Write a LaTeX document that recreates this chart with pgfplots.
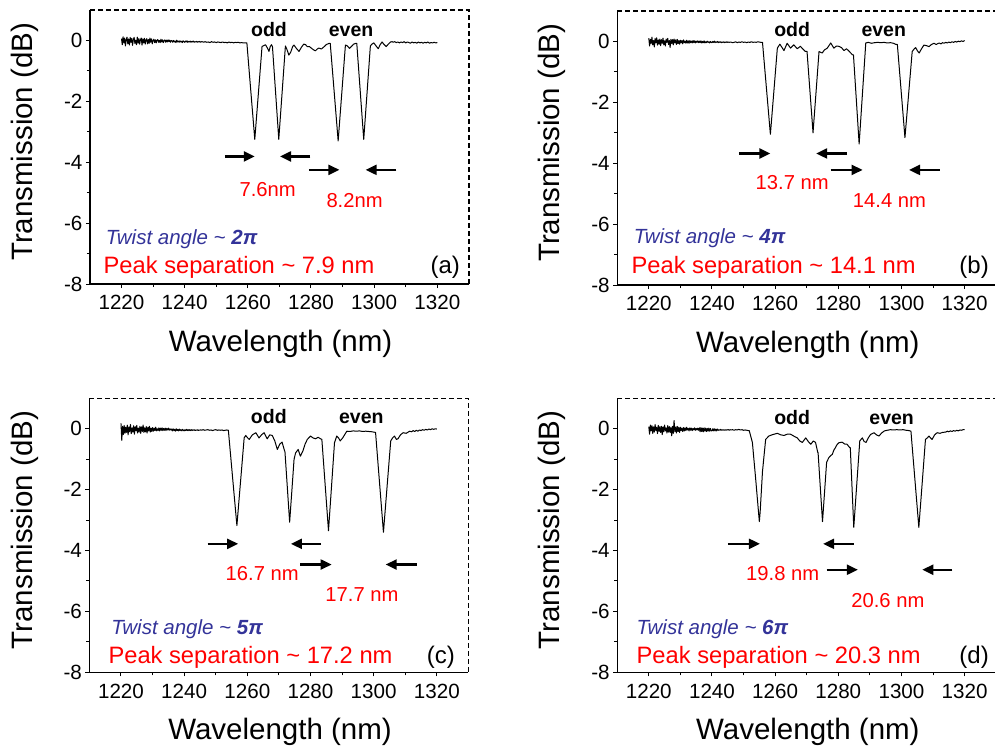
\documentclass[border=0pt]{standalone}
\usepackage{fontspec}
\setmainfont{Liberation Sans}
\usepackage{pgfplots}
\pgfplotsset{compat=1.18}
\usetikzlibrary{arrows.meta}
\definecolor{twist}{HTML}{333399}
\newcommand\fs[1]{\fontsize{#1}{#1}\selectfont}

\pgfplotsset{
  panel/.style={
    width=379pt, height=274pt, scale only axis,
    xmin=1210, xmax=1330, ymin=-8, ymax=1,
    xtick={1220,1240,...,1320}, ytick={-8,-6,...,0},
    minor x tick num=1, minor y tick num=1,
    axis x line*=bottom, axis y line*=left,
    axis line style={-, line width=1.2pt},
    tick align=outside,
    major tick length=4pt, minor tick length=3pt,
    every tick/.style={black, line width=1pt},
    tick label style={font=\fs{20.6}},
    /pgf/number format/1000 sep={},
    /pgf/number format/assume math mode=true,
    xticklabel style={yshift=-4pt},
    xlabel={Wavelength (nm)}, ylabel={Transmission (dB)},
    xlabel style={font=\fs{29.5}, at={(axis description cs:0.503,-0.247)}, anchor=base},
    ylabel style={font=\fs{29.5}, at={(axis description cs:-0.151,0.519)}, anchor=base},
    clip=false,
  },
  spec/.style={black, line width=1pt, mark=none, line join=round},
}
\tikzset{
  arr/.style={line width=2.2pt, -{Triangle[length=11pt,width=10pt]}},
}
% y, left tail, left tick, right tick, right tail
\newcommand\sep[5]{%
  \draw[arr] (axis cs:#2,#1) -- (axis cs:#3,#1);
  \draw[line width=1pt] (axis cs:#3,#1) ++(0,-10pt) -- ++(0,20pt);
  \draw[arr] (axis cs:#5,#1) -- (axis cs:#4,#1);
  \draw[line width=1pt] (axis cs:#4,#1) ++(0,-10pt) -- ++(0,20pt);
}
\newcommand\frameit{\draw[line width=1.3pt, dash pattern=on 5pt off 3pt] (rel axis cs:0,1) -- (rel axis cs:1,1) -- (rel axis cs:1,0);}

\begin{document}
\begin{tikzpicture}
% ---------------- (a)
\begin{axis}[panel, at={(90pt,-284pt)}, anchor=south west]
\addplot[spec] coordinates {
(1220,0.06)(1220.25,-0.14)(1220.5,0.12)(1220.75,-0.08)(1221,0.08)(1221.25,-0.18)(1221.5,0.02)(1221.75,0.11)
(1222,-0.11)(1222.25,0.05)(1222.5,-0.15)(1222.75,0.10)(1223,-0.06)(1223.25,0.07)(1223.5,-0.16)(1223.75,0.03)
(1224,0.10)(1224.25,-0.10)(1224.5,0.01)(1224.75,-0.14)(1225,0.11)(1225.25,-0.09)(1225.5,0.06)(1225.75,-0.12)
(1226,0.02)(1226.25,0.08)(1226.5,-0.15)(1226.75,0.05)(1227,-0.08)(1227.25,0.07)(1227.5,-0.12)(1227.75,0.01)
(1228,0.06)(1228.25,-0.11)(1228.5,0.03)(1228.75,-0.10)(1229,0.08)(1229.25,-0.06)(1229.5,0.05)(1229.75,-0.11)
(1230,0.00)(1230.25,0.04)(1230.5,-0.07)(1230.75,0.02)(1231,-0.08)(1231.25,0.01)(1231.5,0.03)(1231.75,-0.06)
(1232,0.00)(1232.25,-0.07)(1232.5,0.04)(1232.75,-0.05)(1233,0.02)(1233.25,-0.07)(1233.5,-0.01)(1233.75,0.02)
(1234,-0.06)(1234.25,0.01)(1234.5,-0.05)(1234.75,0.02)(1235,-0.04)(1235.25,0.01)(1235.5,-0.06)(1235.75,0.00)
(1236,-0.01)(1236.25,-0.06)(1236.5,0.00)(1236.75,-0.05)(1237,-0.02)(1237.25,-0.07)(1237.5,0.01)(1237.75,-0.05)
(1238,-0.02)(1238.25,-0.06)(1238.5,-0.01)(1238.75,-0.05)(1239,-0.03)(1239.25,-0.07)(1239.5,-0.01)(1239.75,-0.04)
(1240,-0.06)(1240.25,-0.02)(1240.5,-0.05)(1240.75,-0.01)(1241,-0.06)(1241.25,-0.03)(1241.5,-0.05)(1241.75,-0.02)
(1242,-0.06)(1242.25,-0.03)(1242.5,-0.05)(1242.75,-0.02)(1243,-0.06)(1243.25,-0.04)(1243.5,-0.05)(1243.75,-0.03)
(1244,-0.06)(1244.25,-0.04)(1244.5,-0.05)(1244.75,-0.03)(1245,-0.06)(1245.25,-0.04)(1245.5,-0.05)(1245.75,-0.04)
(1246,-0.06)(1246.5,-0.04)(1247,-0.06)(1247.5,-0.05)
(1248,-0.07)(1248.5,-0.04)(1249,-0.06)(1249.5,-0.05)(1250,-0.07)(1250.5,-0.05)(1251,-0.06)(1251.5,-0.07)
(1252,-0.05)(1252.5,-0.07)(1253,-0.06)(1253.5,-0.08)(1254,-0.05)(1254.5,-0.07)(1255,-0.06)(1255.5,-0.08)
(1256,-0.06)(1256.5,-0.07)(1257,-0.06)(1257.5,-0.08)(1258,-0.07)(1258.5,-0.08)(1259,-0.08)
(1259.7,-0.08)(1260.95,-1.67)(1261.95,-2.93)(1262.2,-3.25)(1262.43,-2.95)(1263.35,-1.73)(1264.5,-0.2)
(1265,-0.17)(1265.6,-0.14)(1266.2,-0.25)(1266.7,-0.36)(1267.1,-0.2)(1267.5,-0.14)
(1267.8,-0.2)(1268.8,-1.72)(1269.6,-2.94)(1269.8,-3.25)(1270.01,-2.94)(1270.85,-1.72)(1271.9,-0.18)
(1272.4,-0.3)(1273,-0.48)(1273.6,-0.38)(1274.2,-0.2)(1274.6,-0.15)(1275.3,-0.25)(1276.2,-0.36)(1277,-0.22)
(1277.7,-0.12)(1278.3,-0.14)(1278.8,-0.2)(1279.5,-0.2)(1280.3,-0.27)(1281,-0.32)(1281.4,-0.34)(1282,-0.28)
(1282.5,-0.25)(1283.3,-0.28)(1284,-0.22)(1284.8,-0.14)(1285.6,-0.1)
(1286.1,-0.1)(1287.35,-1.7)(1288.35,-2.98)(1288.6,-3.3)(1288.83,-2.99)(1289.75,-1.73)(1290.9,-0.15)
(1291.5,-0.18)(1292.2,-0.26)(1292.8,-0.2)(1293.5,-0.12)(1294.1,-0.1)
(1294.5,-0.1)(1295.6,-1.68)(1296.48,-2.94)(1296.7,-3.25)(1296.91,-2.94)(1297.75,-1.72)(1298.8,-0.18)
(1299.3,-0.12)(1299.9,-0.08)(1300.6,-0.18)(1301.3,-0.27)(1301.9,-0.14)(1302.5,-0.05)(1303.2,-0.14)(1303.8,-0.2)
(1304.5,-0.12)(1305.2,-0.05)(1305.7,-0.04)
(1306,-0.06)(1306.5,-0.04)(1307,-0.07)(1307.5,-0.05)(1308,-0.08)(1308.5,-0.05)(1309,-0.07)(1309.5,-0.04)
(1310,-0.08)(1310.5,-0.05)(1311,-0.07)(1311.5,-0.09)(1312,-0.05)(1312.5,-0.08)(1313,-0.06)(1313.5,-0.09)
(1314,-0.05)(1314.5,-0.08)(1315,-0.06)(1315.5,-0.09)(1316,-0.06)(1316.5,-0.08)(1317,-0.05)(1317.5,-0.09)
(1318,-0.07)(1318.5,-0.08)(1319,-0.06)(1319.5,-0.08)(1320,-0.07)
};
\frameit
\node[font=\fs{19.5}\bfseries, anchor=base] at (axis cs:1266.7,0.14) {odd};
\node[font=\fs{19.5}\bfseries, anchor=base] at (axis cs:1292.7,0.14) {even};
\sep{-3.81}{1252.7}{1262.2}{1270.2}{1279.8}
\sep{-4.25}{1279.3}{1289.0}{1297.3}{1307.0}
\node[font=\fs{20.2}, text=red] at (axis cs:1266.3,-4.9) {7.6nm};
\node[font=\fs{20.2}, text=red] at (axis cs:1293.8,-5.25) {8.2nm};
\node[font=\fs{20.5}\itshape, text=twist, anchor=base west, inner sep=0pt] at (axis cs:1215,-6.69) {Twist angle \textasciitilde{} \textbf{2π}};
\node[font=\fs{23.7}, text=red, anchor=base west, inner sep=0pt] at (axis cs:1214.3,-7.65) {Peak separation \textasciitilde{} 7.9 nm};
\node[font=\fs{24}, anchor=base east, inner sep=0pt] at (axis cs:1327.2,-7.65) {(a)};
\end{axis}
% ---------------- (b)
\begin{axis}[panel, at={(617.3pt,-285pt)}, anchor=south west]
\addplot[spec] coordinates {
(1220,0.11)(1220.25,-0.15)(1220.5,0.07)(1220.75,-0.07)(1221,0.14)(1221.25,-0.11)(1221.5,0.03)(1221.75,-0.18)
(1222,0.10)(1222.25,-0.05)(1222.5,0.12)(1222.75,-0.12)(1223,0.05)(1223.25,-0.09)(1223.5,0.08)(1223.75,-0.14)
(1224,0.06)(1224.25,-0.06)(1224.5,0.11)(1224.75,-0.11)(1225,0.02)(1225.25,-0.15)(1225.5,0.08)(1225.75,-0.03)
(1226,0.10)(1226.25,-0.10)(1226.5,0.03)(1226.75,-0.20)(1227,0.07)(1227.25,-0.07)(1227.5,0.06)(1227.75,-0.11)
(1228,0.08)(1228.25,-0.05)(1228.5,0.05)(1228.75,-0.10)(1229,0.07)(1229.25,-0.07)(1229.5,0.03)(1229.75,-0.09)
(1230,0.04)(1230.25,-0.05)(1230.5,0.03)(1230.75,-0.08)(1231,0.05)(1231.25,-0.04)(1231.5,0.01)(1231.75,-0.06)
(1232,0.04)(1232.25,-0.05)(1232.5,0.02)(1232.75,-0.06)(1233,0.03)(1233.25,-0.04)(1233.5,0.01)(1233.75,-0.05)
(1234,0.03)(1234.25,-0.04)(1234.5,0.02)(1234.75,-0.05)(1235,0.01)(1235.25,-0.03)(1235.5,0.02)(1235.75,-0.04)
(1236,0.01)(1236.25,-0.04)(1236.5,0.02)(1236.75,-0.05)(1237,0.00)(1237.25,-0.04)(1237.5,0.02)(1237.75,-0.05)
(1238,-0.01)(1238.25,-0.04)(1238.5,0.01)(1238.75,-0.03)(1239,-0.01)(1239.25,-0.05)(1239.5,0.00)(1239.75,-0.03)
(1240,-0.04)(1240.25,0.00)(1240.5,-0.03)(1240.75,0.01)(1241,-0.04)(1241.25,-0.01)(1241.5,-0.03)(1241.75,0.00)
(1242,-0.04)(1242.25,-0.01)(1242.5,-0.03)(1242.75,-0.01)(1243,-0.04)(1243.25,-0.02)(1243.5,-0.03)(1243.75,-0.01)
(1244,-0.04)(1244.25,-0.02)(1244.5,-0.03)(1244.75,-0.01)(1245,-0.03)(1245.25,-0.02)(1245.5,-0.03)(1245.75,-0.02)
(1246,-0.02)(1246.5,-0.04)(1247,-0.03)(1247.5,-0.01)
(1248,-0.04)(1248.5,-0.02)(1249,-0.03)(1249.5,-0.01)(1250,-0.03)(1250.5,-0.02)(1251,-0.04)(1251.5,-0.02)
(1252,-0.03)(1252.5,-0.01)(1253,-0.03)(1253.5,-0.02)(1254,-0.03)(1254.5,-0.01)(1255,-0.02)(1255.5,-0.03)
(1256,-0.03)(1257.25,-1.54)(1258.25,-2.75)(1258.5,-3.05)(1258.72,-2.77)(1259.6,-1.64)(1260.7,-0.22)
(1261.5,-0.09)(1262.2,-0.2)(1262.8,-0.3)(1263.8,-0.06)(1264.9,-0.22)(1265.9,-0.11)(1267,-0.24)(1268,-0.16)
(1268.8,-0.25)(1269.6,-0.33)(1270.1,-0.33)
(1271.05,-1.67)(1271.81,-2.73)(1272,-3.0)(1272.19,-2.73)(1272.95,-1.67)(1273.9,-0.33)
(1274.9,-0.38)(1275.6,-0.28)(1276.5,-0.22)(1277.6,-0.05)(1278.6,-0.22)(1279.4,-0.15)(1280.2,-0.16)(1281,-0.2)
(1281.8,-0.3)(1282.6,-0.24)(1283.4,-0.32)(1284.5,-0.44)(1284.8,-0.44)
(1285.7,-1.9)(1286.42,-3.08)(1286.6,-3.37)(1286.81,-3.04)(1287.65,-1.71)(1288.7,-0.05)
(1289.5,-0.03)(1290.5,-0.06)(1291.5,-0.04)(1292.5,-0.03)(1293.5,-0.04)(1294.5,-0.03)(1295.5,-0.05)(1296.5,-0.04)
(1297.5,-0.06)(1298.3,-0.1)(1298.7,-0.1)
(1299.9,-1.63)(1300.86,-2.85)(1301.1,-3.16)(1301.33,-2.88)(1302.25,-1.75)(1303.4,-0.33)
(1304,-0.25)(1304.5,-0.2)(1305,-0.3)(1305.6,-0.38)(1306.3,-0.25)(1307.1,-0.12)(1308,-0.14)(1308.7,-0.17)
(1309.5,-0.1)(1310.3,-0.06)(1311,-0.1)(1311.5,-0.07)(1312,-0.05)(1312.5,-0.08)(1313,-0.04)(1313.5,-0.06)
(1314,-0.03)(1314.5,-0.05)(1315,-0.02)(1315.5,-0.04)(1316,-0.01)(1316.5,-0.03)(1317,0.00)(1317.5,-0.02)
(1318,0.01)(1318.5,-0.01)(1319,0.02)(1319.5,0.00)(1320,0.03)
};
\frameit
\node[font=\fs{19.5}\bfseries, anchor=base] at (axis cs:1265.4,0.16) {odd};
\node[font=\fs{19.5}\bfseries, anchor=base] at (axis cs:1294.4,0.16) {even};
\sep{-3.68}{1248.5}{1258.5}{1273.0}{1282.8}
\sep{-4.22}{1277.6}{1287.7}{1302.4}{1312.2}
\node[font=\fs{20.2}, text=red] at (axis cs:1265.4,-4.62) {13.7 nm};
\node[font=\fs{20.2}, text=red] at (axis cs:1296.2,-5.22) {14.4 nm};
\node[font=\fs{20.5}\itshape, text=twist, anchor=base west, inner sep=0pt] at (axis cs:1215.2,-6.64) {Twist angle \textasciitilde{} \textbf{4π}};
\node[font=\fs{23.7}, text=red, anchor=base west, inner sep=0pt] at (axis cs:1214.5,-7.62) {Peak separation \textasciitilde{} 14.1 nm};
\node[font=\fs{24}, anchor=base east, inner sep=0pt] at (axis cs:1327.7,-7.62) {(b)};
\end{axis}
% ---------------- (c)
\begin{axis}[panel, at={(89.5pt,-672.3pt)}, anchor=south west]
\addplot[spec] coordinates {
(1220,0.18)(1220.25,-0.38)(1220.5,0.08)(1220.75,-0.19)(1221,0.11)(1221.25,-0.15)(1221.5,0.05)(1221.75,-0.12)
(1222,0.12)(1222.25,-0.20)(1222.5,0.06)(1222.75,-0.10)(1223,0.14)(1223.25,-0.16)(1223.5,0.03)(1223.75,-0.11)
(1224,0.10)(1224.25,-0.18)(1224.5,0.07)(1224.75,-0.07)(1225,0.11)(1225.25,-0.14)(1225.5,0.02)(1225.75,-0.11)
(1226,0.08)(1226.25,-0.15)(1226.5,0.06)(1226.75,-0.09)(1227,0.12)(1227.25,-0.12)(1227.5,0.03)(1227.75,-0.10)
(1228,0.07)(1228.25,-0.14)(1228.5,0.05)(1228.75,-0.07)(1229,0.08)(1229.25,-0.11)(1229.5,0.02)(1229.75,-0.09)
(1230,0.04)(1230.25,-0.08)(1230.5,0.02)(1230.75,-0.06)(1231,0.05)(1231.25,-0.07)(1231.5,0.00)(1231.75,-0.06)
(1232,0.03)(1232.25,-0.07)(1232.5,0.02)(1232.75,-0.05)(1233,0.03)(1233.25,-0.06)(1233.5,0.01)(1233.75,-0.05)
(1234,0.02)(1234.25,-0.06)(1234.5,0.01)(1234.75,-0.04)(1235,0.02)(1235.25,-0.05)(1235.5,0.00)(1235.75,-0.04)
(1236,-0.01)(1236.25,-0.07)(1236.5,0.00)(1236.75,-0.06)(1237,-0.02)(1237.25,-0.08)(1237.5,0.00)(1237.75,-0.06)
(1238,-0.02)(1238.25,-0.07)(1238.5,-0.01)(1238.75,-0.06)(1239,-0.03)(1239.25,-0.07)(1239.5,-0.02)(1239.75,-0.05)
(1240,-0.07)(1240.25,-0.03)(1240.5,-0.06)(1240.75,-0.02)(1241,-0.06)(1241.25,-0.03)(1241.5,-0.06)(1241.75,-0.03)
(1242,-0.06)(1242.25,-0.03)(1242.5,-0.06)(1242.75,-0.03)(1243,-0.05)(1243.25,-0.03)(1243.5,-0.06)(1243.75,-0.04)
(1244,-0.05)(1244.25,-0.03)(1244.5,-0.06)(1244.75,-0.04)(1245,-0.05)(1245.25,-0.03)(1245.5,-0.05)(1245.75,-0.04)
(1246,-0.03)(1246.5,-0.05)(1247,-0.04)(1247.5,-0.03)
(1248,-0.05)(1248.5,-0.04)(1249,-0.06)(1249.5,-0.04)(1250,-0.03)(1250.5,-0.05)(1251,-0.04)(1251.5,-0.05)
(1252,-0.04)(1252.5,-0.06)(1253,-0.05)(1253.5,-0.04)
(1254,-0.05)(1255.35,-1.62)(1256.43,-2.87)(1256.7,-3.18)(1256.93,-2.89)(1257.85,-1.74)(1259,-0.3)
(1259.5,-0.22)(1260.1,-0.3)(1260.6,-0.35)(1261.6,-0.2)(1262.7,-0.13)(1263.7,-0.3)(1264.5,-0.2)(1265.3,-0.13)
(1266.3,-0.33)(1267.1,-0.2)(1267.9,-0.22)(1268.7,-0.4)(1269.5,-0.68)(1270.3,-0.5)(1271,-0.44)(1271.8,-0.73)
(1271.9,-0.73)(1272.65,-1.9)(1273.25,-2.84)(1273.4,-3.07)(1273.54,-2.86)(1274.1,-2.04)(1274.8,-1.0)
(1275.3,-0.79)(1276.1,-0.68)(1276.8,-0.9)(1277.6,-0.73)(1278.3,-0.5)(1279,-0.35)(1280,-0.24)(1280.8,-0.3)
(1281.6,-0.33)(1282.4,-0.28)(1283.2,-0.33)(1283.6,-0.35)
(1284.65,-1.85)(1285.49,-3.05)(1285.7,-3.35)(1285.89,-3.06)(1286.65,-1.91)(1287.6,-0.46)
(1288.3,-0.24)(1288.9,-0.3)(1289.4,-0.4)(1290.2,-0.3)(1291.5,-0.08)(1292.5,-0.09)(1293.5,-0.07)(1294.5,-0.08)
(1295.5,-0.07)(1296.5,-0.09)(1297.5,-0.08)(1298.5,-0.09)(1299.5,-0.1)(1300.6,-0.12)
(1301.85,-1.76)(1302.85,-3.07)(1303.1,-3.4)(1303.33,-3.1)(1304.25,-1.9)(1305.4,-0.4)
(1306,-0.3)(1306.6,-0.24)(1307.2,-0.35)(1307.7,-0.33)(1308.5,-0.2)(1309.3,-0.13)(1310.3,-0.15)(1311.4,-0.08)
(1312,-0.1)(1312.5,-0.06)(1313,-0.09)(1313.5,-0.05)(1314,-0.08)(1314.5,-0.04)(1315,-0.06)(1315.5,-0.03)
(1316,-0.05)(1316.5,-0.02)(1317,-0.04)(1317.5,-0.01)(1318,-0.03)(1318.5,0.00)(1319,-0.02)(1319.5,0.00)(1320,-0.01)
};
\frameit
\node[font=\fs{19.5}\bfseries, anchor=base] at (axis cs:1266.8,0.17) {odd};
\node[font=\fs{19.5}\bfseries, anchor=base] at (axis cs:1296.1,0.17) {even};
\sep{-3.78}{1247.4}{1257.1}{1273.8}{1283.4}
\sep{-4.46}{1276.8}{1286.7}{1303.8}{1313.6}
\node[font=\fs{20.2}, text=red] at (axis cs:1264.7,-4.76) {16.7 nm};
\node[font=\fs{20.2}, text=red] at (axis cs:1296.3,-5.45) {17.7 nm};
\node[font=\fs{20.5}\itshape, text=twist, anchor=base west, inner sep=0pt] at (axis cs:1216.9,-6.76) {Twist angle \textasciitilde{} \textbf{5π}};
\node[font=\fs{23.7}, text=red, anchor=base west, inner sep=0pt] at (axis cs:1216.0,-7.7) {Peak separation \textasciitilde{} 17.2 nm};
\node[font=\fs{24}, anchor=base east, inner sep=0pt] at (axis cs:1325.8,-7.7) {(c)};
\end{axis}
% ---------------- (d)
\begin{axis}[panel, at={(617.3pt,-672.3pt)}, anchor=south west]
\addplot[spec] coordinates {
(1220,0.07)(1220.25,-0.18)(1220.5,0.12)(1220.75,-0.07)(1221,0.10)(1221.25,-0.15)(1221.5,0.06)(1221.75,-0.11)
(1222,0.14)(1222.25,-0.06)(1222.5,0.05)(1222.75,-0.16)(1223,0.11)(1223.25,-0.09)(1223.5,0.07)(1223.75,-0.12)
(1224,0.08)(1224.25,-0.19)(1224.5,0.06)(1224.75,-0.10)(1225,0.12)(1225.25,-0.07)(1225.5,0.03)(1225.75,-0.14)
(1226,0.10)(1226.25,-0.11)(1226.5,0.07)(1226.75,-0.12)(1227,0.05)(1227.25,-0.23)(1227.5,0.08)(1227.75,-0.15)
(1228,0.27)(1228.25,-0.10)(1228.5,0.06)(1228.75,-0.14)(1229,0.08)(1229.25,-0.09)(1229.5,0.05)(1229.75,-0.12)
(1230,0.05)(1230.25,-0.06)(1230.5,0.02)(1230.75,-0.09)(1231,0.04)(1231.25,-0.07)(1231.5,0.03)(1231.75,-0.06)
(1232,0.05)(1232.25,-0.04)(1232.5,0.01)(1232.75,-0.07)(1233,0.03)(1233.25,-0.05)(1233.5,0.02)(1233.75,-0.06)
(1234,0.01)(1234.25,-0.04)(1234.5,0.03)(1234.75,-0.05)(1235,0.01)(1235.25,-0.04)(1235.5,0.02)(1235.75,-0.05)
(1236,0.03)(1236.25,-0.10)(1236.5,0.04)(1236.75,-0.09)(1237,0.02)(1237.25,-0.10)(1237.5,0.03)(1237.75,-0.08)
(1238,0.02)(1238.25,-0.09)(1238.5,0.01)(1238.75,-0.08)(1239,0.02)(1239.25,-0.08)(1239.5,0.01)(1239.75,-0.07)
(1240,-0.07)(1240.25,0.00)(1240.5,-0.07)(1240.75,0.00)(1241,-0.07)(1241.25,-0.01)(1241.5,-0.07)(1241.75,-0.01)
(1242,-0.05)(1242.25,-0.03)(1242.5,-0.05)(1242.75,-0.02)(1243,-0.05)(1243.25,-0.03)(1243.5,-0.05)(1243.75,-0.03)
(1244,-0.05)(1244.25,-0.03)(1244.5,-0.05)(1244.75,-0.03)(1245,-0.04)(1245.25,-0.03)(1245.5,-0.05)(1245.75,-0.03)
(1246,-0.04)(1246.5,-0.03)(1247,-0.05)(1247.5,-0.03)
(1248,-0.04)(1248.5,-0.02)(1249,-0.04)(1249.5,-0.03)(1250,-0.05)(1250.5,-0.04)(1251,-0.05)(1251.5,-0.06)
(1251.8,-0.06)(1252.8,-0.45)(1253.8,-1.6)(1254.75,-2.75)(1255,-3.05)(1255.25,-2.75)(1256,-1.4)(1257,-0.35)
(1258,-0.24)(1259,-0.2)(1260,-0.17)(1260.7,-0.15)(1261.8,-0.2)(1262.8,-0.22)(1263.8,-0.18)(1264.9,-0.18)
(1265.9,-0.24)(1267,-0.3)(1267.8,-0.4)(1268.6,-0.45)(1269.7,-0.3)(1270.5,-0.42)(1271.3,-0.51)(1272.1,-0.4)
(1272.8,-0.45)(1273.5,-0.78)(1273.6,-0.78)
(1274.3,-1.92)(1274.86,-2.82)(1275,-3.05)(1275.13,-2.86)(1275.65,-2.08)(1276.3,-1.1)
(1277,-0.95)(1277.6,-0.88)(1278.1,-0.84)(1278.6,-0.7)(1279.1,-0.62)(1279.6,-0.52)(1280.2,-0.46)(1281.2,-0.44)
(1282,-0.5)(1282.8,-0.51)(1283.6,-0.62)(1283.8,-0.62)
(1284.35,-1.93)(1284.79,-2.98)(1284.9,-3.24)(1285.09,-2.96)(1285.85,-1.82)(1286.8,-0.4)
(1287.6,-0.3)(1288.2,-0.42)(1288.8,-0.45)(1289.5,-0.3)(1290.2,-0.19)(1291.3,-0.13)(1292.1,-0.2)(1292.9,-0.24)
(1293.7,-0.14)(1294.6,-0.07)(1295.5,-0.05)(1296.5,-0.03)(1297.5,-0.04)(1298.5,-0.03)(1299.5,-0.04)(1300.5,-0.03)
(1301.5,-0.05)(1302.4,-0.06)(1303,-0.08)
(1304.25,-1.66)(1305.25,-2.92)(1305.5,-3.24)(1305.71,-2.95)(1306.55,-1.8)(1307.6,-0.35)
(1308.2,-0.3)(1308.7,-0.24)(1309.2,-0.3)(1309.7,-0.35)(1310.5,-0.2)(1311.3,-0.13)(1312.2,-0.15)(1313,-0.12)
(1314,-0.11)(1314.5,-0.08)(1315,-0.1)(1315.5,-0.07)(1316,-0.09)(1316.5,-0.06)(1317,-0.08)(1317.5,-0.05)
(1318,-0.07)(1318.5,-0.04)(1319,-0.05)(1319.5,-0.03)(1320,-0.03)
};
\frameit
\node[font=\fs{19.5}\bfseries, anchor=base] at (axis cs:1265.4,0.14) {odd};
\node[font=\fs{19.5}\bfseries, anchor=base] at (axis cs:1296.9,0.14) {even};
\sep{-3.78}{1245.0}{1255.2}{1275.2}{1284.9}
\sep{-4.63}{1276.3}{1286.2}{1306.6}{1316.1}
\node[font=\fs{20.2}, text=red] at (axis cs:1262.4,-4.74) {19.8 nm};
\node[font=\fs{20.2}, text=red] at (axis cs:1295.7,-5.63) {20.6 nm};
\node[font=\fs{20.5}\itshape, text=twist, anchor=base west, inner sep=0pt] at (axis cs:1216.1,-6.76) {Twist angle \textasciitilde{} \textbf{6π}};
\node[font=\fs{23.7}, text=red, anchor=base west, inner sep=0pt] at (axis cs:1216.1,-7.7) {Peak separation \textasciitilde{} 20.3 nm};
\node[font=\fs{24}, anchor=base east, inner sep=0pt] at (axis cs:1327.7,-7.7) {(d)};
\end{axis}
\pgfresetboundingbox
\path[use as bounding box] (0,0) rectangle (995pt,-748pt);
\end{tikzpicture}
\end{document}
